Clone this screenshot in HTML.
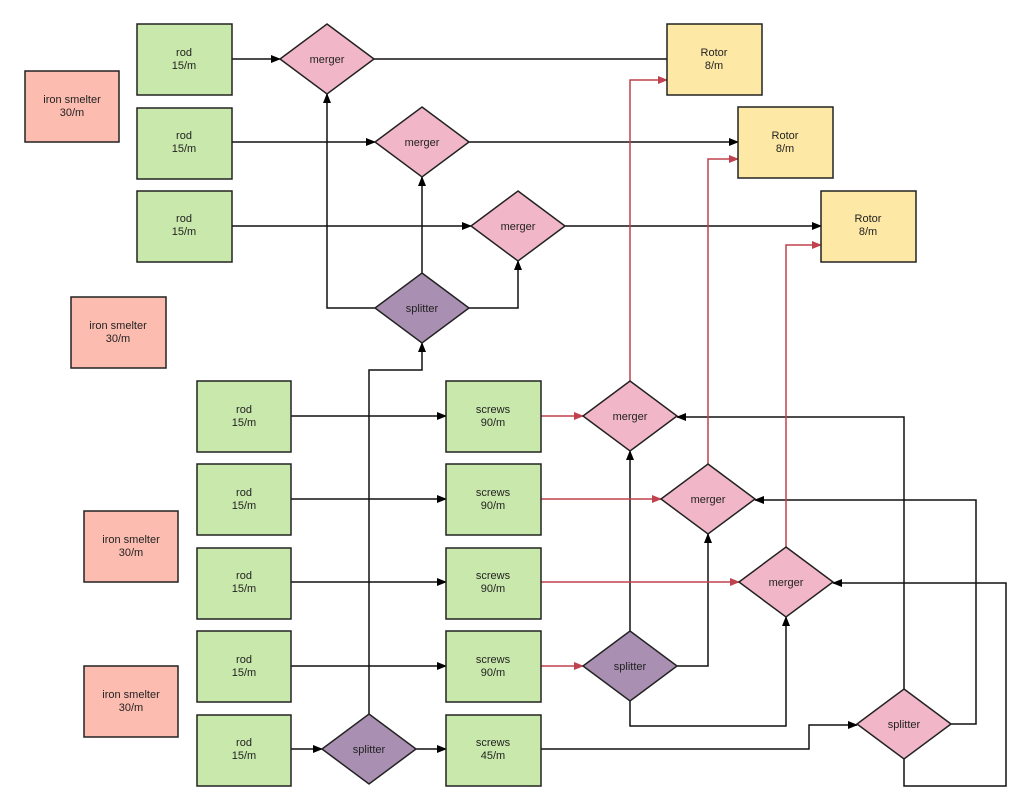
<!DOCTYPE html>
<html><head><meta charset="utf-8"><style>
html,body{margin:0;padding:0;background:#fff}
svg{display:block}
text{font-family:"Liberation Sans",sans-serif;font-size:11px;fill:#222;text-anchor:middle}
</style></head><body>
<svg width="1024" height="797" viewBox="0 0 1024 797">
<defs>
<marker id="a" markerWidth="10" markerHeight="8" refX="9" refY="4" orient="auto" markerUnits="userSpaceOnUse"><path d="M0,0 L10,4 L0,8z" fill="#000"/></marker>
<marker id="r" markerWidth="10" markerHeight="8" refX="9" refY="4" orient="auto" markerUnits="userSpaceOnUse"><path d="M0,0 L10,4 L0,8z" fill="#c0424f"/></marker>
</defs>
<g fill="none" stroke="#111" stroke-width="1.5">
<path d="M232,59H280" marker-end="url(#a)"/><path d="M374,59H667"/>
<path d="M232,142H375" marker-end="url(#a)"/><path d="M469,142H738" marker-end="url(#a)"/>
<path d="M232,226H471" marker-end="url(#a)"/><path d="M565,226H821" marker-end="url(#a)"/>
<path d="M375,308H327V94" marker-end="url(#a)"/>
<path d="M422,273V177" marker-end="url(#a)"/>
<path d="M469,308H518V261" marker-end="url(#a)"/>
<path d="M369,714V370H422V343" marker-end="url(#a)"/>
<path d="M291,749H322" marker-end="url(#a)"/>
<path d="M416,749H446" marker-end="url(#a)"/>
<path d="M291,416H446" marker-end="url(#a)"/>
<path d="M291,499H446" marker-end="url(#a)"/>
<path d="M291,582H446" marker-end="url(#a)"/>
<path d="M291,666H446" marker-end="url(#a)"/>
<path d="M541,749H809V725H857" marker-end="url(#a)"/>
<path d="M630,631V451" marker-end="url(#a)"/>
<path d="M677,666H708V534" marker-end="url(#a)"/>
<path d="M630,701V726H786V617" marker-end="url(#a)"/>
<path d="M904,689V417H677" marker-end="url(#a)"/>
<path d="M951,724H976V500H755" marker-end="url(#a)"/>
<path d="M904,759V786H1006V583H833" marker-end="url(#a)"/>
</g>
<g fill="none" stroke="#c0424f" stroke-width="1.5">
<path d="M541,416H583" marker-end="url(#r)"/>
<path d="M541,499H661" marker-end="url(#r)"/>
<path d="M541,582H739" marker-end="url(#r)"/>
<path d="M541,666H583" marker-end="url(#r)"/>
<path d="M630,381V80H667" marker-end="url(#r)"/>
<path d="M708,464V159H738" marker-end="url(#r)"/>
<path d="M786,547V245H821" marker-end="url(#r)"/>
</g>
<g stroke="#222" stroke-width="1.5">
<g fill="#c9e8ab">
<rect x="137" y="24" width="95" height="71"/><rect x="137" y="108" width="95" height="71"/><rect x="137" y="191" width="95" height="71"/>
<rect x="197" y="381" width="94" height="71"/><rect x="197" y="464" width="94" height="71"/><rect x="197" y="548" width="94" height="71"/><rect x="197" y="631" width="94" height="71"/><rect x="197" y="715" width="94" height="71"/>
<rect x="446" y="381" width="95" height="71"/><rect x="446" y="464" width="95" height="71"/><rect x="446" y="548" width="95" height="71"/><rect x="446" y="631" width="95" height="71"/><rect x="446" y="715" width="95" height="71"/>
</g>
<g fill="#fdbcb0">
<rect x="25" y="71" width="94" height="71"/><rect x="71" y="297" width="95" height="71"/><rect x="84" y="511" width="94" height="71"/><rect x="84" y="666" width="94" height="71"/>
</g>
<g fill="#fde9a5">
<rect x="667" y="24" width="95" height="71"/><rect x="738" y="107" width="95" height="71"/><rect x="821" y="191" width="95" height="71"/>
</g>
<g fill="#f2b6c9">
<path d="M327,24L374,59L327,94L280,59z"/>
<path d="M422,107L469,142L422,177L375,142z"/>
<path d="M518,191L565,226L518,261L471,226z"/>
<path d="M630,381L677,416L630,451L583,416z"/>
<path d="M708,464L755,499L708,534L661,499z"/>
<path d="M786,547L833,582L786,617L739,582z"/>
<path d="M904,689L951,724L904,759L857,724z"/>
</g>
<g fill="#a98fb1">
<path d="M422,273L469,308L422,343L375,308z"/>
<path d="M630,631L677,666L630,701L583,666z"/>
<path d="M369,714L416,749L369,784L322,749z"/>
</g>
</g>
<g>
<text x="184" y="56">rod</text><text x="184" y="69">15/m</text>
<text x="184" y="139">rod</text><text x="184" y="152">15/m</text>
<text x="184" y="222">rod</text><text x="184" y="235">15/m</text>
<text x="72" y="103">iron smelter</text><text x="72" y="116">30/m</text>
<text x="118" y="329">iron smelter</text><text x="118" y="342">30/m</text>
<text x="131" y="543">iron smelter</text><text x="131" y="556">30/m</text>
<text x="131" y="698">iron smelter</text><text x="131" y="711">30/m</text>
<text x="714" y="56">Rotor</text><text x="714" y="69">8/m</text>
<text x="785" y="139">Rotor</text><text x="785" y="152">8/m</text>
<text x="868" y="222">Rotor</text><text x="868" y="235">8/m</text>
<text x="244" y="413">rod</text><text x="244" y="426">15/m</text>
<text x="244" y="496">rod</text><text x="244" y="509">15/m</text>
<text x="244" y="579">rod</text><text x="244" y="592">15/m</text>
<text x="244" y="663">rod</text><text x="244" y="676">15/m</text>
<text x="244" y="746">rod</text><text x="244" y="759">15/m</text>
<text x="493" y="413">screws</text><text x="493" y="426">90/m</text>
<text x="493" y="496">screws</text><text x="493" y="509">90/m</text>
<text x="493" y="579">screws</text><text x="493" y="592">90/m</text>
<text x="493" y="663">screws</text><text x="493" y="676">90/m</text>
<text x="493" y="746">screws</text><text x="493" y="759">45/m</text>
<text x="327" y="63">merger</text><text x="422" y="146">merger</text><text x="518" y="230">merger</text>
<text x="630" y="420">merger</text><text x="708" y="503">merger</text><text x="786" y="586">merger</text>
<text x="422" y="312">splitter</text><text x="630" y="670">splitter</text><text x="369" y="753">splitter</text><text x="904" y="728">splitter</text>
</g>
</svg>
</body></html>
